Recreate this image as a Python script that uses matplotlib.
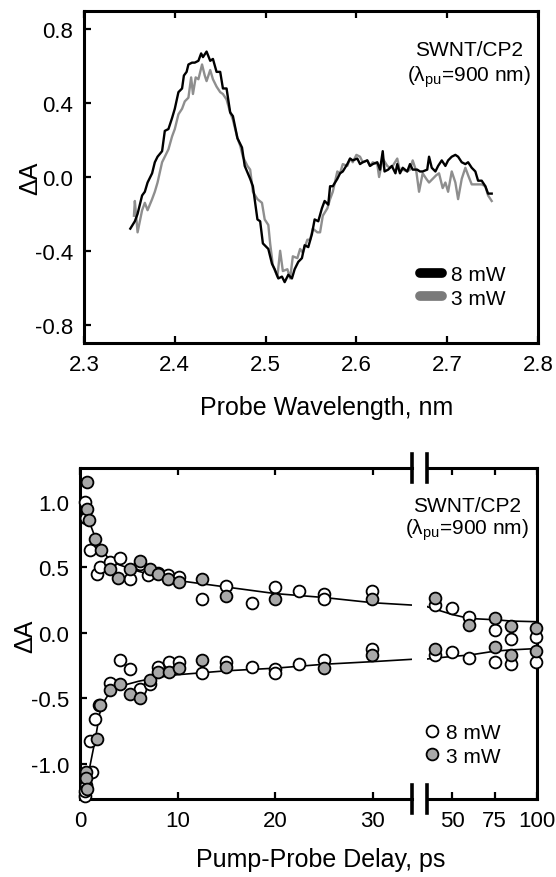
import numpy as np
import matplotlib.pyplot as plt
from matplotlib.lines import Line2D

plt.rcParams['font.family'] = ['Liberation Sans', 'DejaVu Sans']
plt.rcParams['mathtext.fontset'] = 'custom'
plt.rcParams['mathtext.rm'] = 'Liberation Sans'
plt.rcParams['mathtext.it'] = 'Liberation Sans:italic'

# ---- top panel: transient spectra ----
wl8 = [2.351, 2.356, 2.359, 2.364, 2.367, 2.370, 2.375, 2.378, 2.381, 2.386,
       2.389, 2.393, 2.397, 2.400, 2.404, 2.408, 2.410, 2.413, 2.415, 2.419,
       2.422, 2.426, 2.429, 2.431, 2.435, 2.439, 2.442, 2.446, 2.450, 2.453,
       2.457, 2.461, 2.464, 2.469, 2.474, 2.477, 2.483, 2.486, 2.491, 2.494,
       2.497, 2.503, 2.507, 2.510, 2.514, 2.518, 2.521, 2.525, 2.529, 2.532,
       2.536, 2.540, 2.543, 2.547, 2.551, 2.554, 2.558, 2.562, 2.565, 2.569,
       2.571, 2.574, 2.579, 2.582, 2.585, 2.590, 2.593, 2.596, 2.601, 2.604,
       2.607, 2.612, 2.615, 2.618, 2.623, 2.626, 2.629, 2.631, 2.635, 2.639,
       2.643, 2.645, 2.648, 2.651, 2.656, 2.659, 2.662, 2.667, 2.670, 2.673,
       2.678, 2.680, 2.683, 2.687, 2.690, 2.694, 2.698, 2.701, 2.705, 2.709,
       2.712, 2.716, 2.720, 2.723, 2.727, 2.731, 2.734, 2.738, 2.742, 2.745,
       2.749]
dA8 = [-0.28, -0.24, -0.20, -0.10, -0.08, -0.03, 0.02, 0.08, 0.11, 0.14,
       0.25, 0.26, 0.32, 0.37, 0.46, 0.48, 0.55, 0.57, 0.61, 0.62,
       0.62, 0.63, 0.67, 0.65, 0.68, 0.63, 0.64, 0.57, 0.57, 0.48,
       0.48, 0.35, 0.33, 0.21, 0.16, 0.06, -0.01, -0.05, -0.23, -0.24,
       -0.36, -0.39, -0.47, -0.50, -0.55, -0.54, -0.57, -0.53, -0.55, -0.50,
       -0.46, -0.44, -0.37, -0.38, -0.31, -0.23, -0.24, -0.17, -0.13, -0.15,
       -0.05, -0.05, -0.01, 0.02, 0.03, 0.07, 0.10, 0.09, 0.10, 0.07,
       0.08, 0.09, 0.06, 0.07, 0.08, 0.04, 0.14, 0.03, 0.04, 0.06,
       0.02, 0.07, 0.02, 0.05, 0.03, 0.07, 0.04, 0.04, 0.03, 0.03,
       0.04, 0.11, 0.05, 0.03, 0.06, 0.09, 0.06, 0.09, 0.11, 0.12,
       0.11, 0.08, 0.07, 0.08, 0.05, 0.03, -0.02, -0.02, -0.05, -0.09,
       -0.09]

wl3 = [2.355, 2.356, 2.359, 2.364, 2.367, 2.370, 2.375, 2.378, 2.381, 2.386,
       2.389, 2.393, 2.397, 2.400, 2.404, 2.408, 2.411, 2.415, 2.418, 2.420,
       2.423, 2.426, 2.430, 2.433, 2.435, 2.439, 2.442, 2.446, 2.450, 2.453,
       2.457, 2.461, 2.464, 2.469, 2.472, 2.475, 2.480, 2.483, 2.486, 2.491,
       2.496, 2.499, 2.503, 2.505, 2.508, 2.513, 2.516, 2.519, 2.524, 2.527,
       2.530, 2.535, 2.538, 2.541, 2.546, 2.549, 2.552, 2.557, 2.560, 2.563,
       2.568, 2.571, 2.574, 2.579, 2.582, 2.585, 2.590, 2.593, 2.596, 2.600,
       2.604, 2.607, 2.612, 2.615, 2.618, 2.623, 2.625, 2.629, 2.634, 2.637,
       2.640, 2.645, 2.648, 2.651, 2.656, 2.659, 2.662, 2.666, 2.669, 2.673,
       2.677, 2.680, 2.684, 2.688, 2.691, 2.695, 2.698, 2.701, 2.705, 2.709,
       2.712, 2.716, 2.720, 2.723, 2.727, 2.731, 2.734, 2.738, 2.742, 2.745,
       2.749]
dA3 = [-0.21, -0.13, -0.30, -0.18, -0.14, -0.18, -0.12, -0.08, -0.03, 0.08,
       0.11, 0.15, 0.22, 0.26, 0.34, 0.37, 0.41, 0.43, 0.54, 0.45,
       0.54, 0.53, 0.61, 0.55, 0.52, 0.58, 0.53, 0.49, 0.46, 0.45,
       0.42, 0.35, 0.31, 0.21, 0.17, 0.11, 0.06, 0.04, -0.08, -0.12,
       -0.14, -0.23, -0.26, -0.36, -0.48, -0.54, -0.40, -0.51, -0.50, -0.55,
       -0.43, -0.44, -0.39, -0.41, -0.34, -0.34, -0.28, -0.30, -0.30, -0.21,
       -0.17, -0.12, -0.08, 0.03, 0.02, 0.07, 0.06, 0.10, 0.08, 0.12,
       0.11, 0.08, 0.09, 0.06, 0.08, 0.07, 0.00, 0.10, 0.06, 0.05,
       0.06, 0.10, 0.03, 0.04, 0.03, 0.04, 0.09, 0.03, -0.08, 0.02,
       -0.01, -0.03, -0.01, 0.01, 0.02, -0.06, -0.03, -0.08, 0.03, -0.03,
       -0.12, -0.01, 0.05, 0.01, -0.04, -0.04, -0.04, -0.04, -0.05, -0.10,
       -0.13]

# ---- bottom panel: kinetics ----
t8_up = [0.5, 0.6, 1.0, 1.7, 2.05, 3.1, 4.1, 5.1, 6.15, 7.0, 8.0, 9.0, 10.1,
         12.5, 15.0, 17.6, 20.0, 22.4, 25.0, 25.0, 29.9, 40, 50, 60, 75, 84.5, 99.4]
v8_up = [1.00, 0.88, 0.63, 0.45, 0.50, 0.54, 0.57, 0.41, 0.53, 0.44, 0.46, 0.44, 0.43,
         0.26, 0.36, 0.23, 0.35, 0.32, 0.30, 0.26, 0.32, 0.21, 0.19, 0.12, 0.02, -0.05, -0.03]
t8_dn = [0.5, 0.6, 0.5, 1.2, 1.0, 1.5, 1.9, 3.1, 4.1, 5.1, 6.15, 7.2, 8.0, 9.1, 10.1,
         12.5, 15.0, 17.6, 20.0, 20.0, 22.4, 25.0, 29.9, 40, 50, 60, 75, 84.5, 99.4]
v8_dn = [-1.25, -1.16, -1.21, -1.06, -0.83, -0.66, -0.55, -0.38, -0.21, -0.28, -0.43, -0.39, -0.26,
         -0.22, -0.22, -0.31, -0.22, -0.26, -0.28, -0.31, -0.24, -0.21, -0.12, -0.17, -0.15, -0.19,
         -0.22, -0.24, -0.22]

t3_up = [0.7, 0.7, 0.9, 1.5, 2.1, 3.1, 3.9, 5.1, 6.1, 7.2, 8.0, 9.0, 10.1,
         12.5, 15.0, 20.0, 29.9, 40, 60, 75, 84.5, 99.4]
v3_up = [1.15, 0.95, 0.86, 0.72, 0.63, 0.49, 0.42, 0.49, 0.55, 0.49, 0.45, 0.41, 0.39,
         0.41, 0.28, 0.26, 0.26, 0.27, 0.06, 0.11, 0.05, 0.04]
t3_dn = [0.6, 0.6, 0.7, 1.7, 2.0, 3.1, 4.1, 5.1, 6.15, 7.2, 8.0, 9.1, 10.1,
         12.5, 15.0, 25.0, 29.9, 40, 75, 84.5, 99.4]
v3_dn = [-1.06, -1.11, -1.19, -0.81, -0.55, -0.44, -0.39, -0.47, -0.50, -0.36, -0.30, -0.30, -0.27,
         -0.21, -0.26, -0.27, -0.17, -0.12, -0.11, -0.17, -0.14]

# fitted curves
fit_t_up = [0.4, 1.0, 1.5, 2.0, 3.0, 4.0, 6.0, 8.0, 10, 15, 20, 25, 30, 34.5,
            35, 45, 50, 60, 75, 85, 100]
fit_v_up = [1.00, 0.84, 0.74, 0.66, 0.56, 0.52, 0.47, 0.43, 0.40, 0.35, 0.30, 0.27, 0.23, 0.21,
            0.20, 0.16, 0.14, 0.11, 0.10, 0.09, 0.085]
fit_t_dn = [0.5, 0.8, 1.2, 1.6, 2.0, 2.5, 3.0, 4.0, 6.0, 8.0, 10, 15, 20, 25, 30, 34.5,
            35, 50, 60, 75, 85, 100]
fit_v_dn = [-1.25, -1.10, -0.95, -0.80, -0.62, -0.52, -0.46, -0.41, -0.37, -0.34, -0.32, -0.29,
            -0.27, -0.24, -0.22, -0.20, -0.20, -0.18, -0.17, -0.14, -0.13, -0.12]

GRAY_LINE = '#8e8e8e'
GRAY_FILL = '#a8a8a8'
FS_TICK = 16
FS_NOTE = 15
FS_LAB = 18

W, H = 556, 878
fig = plt.figure(figsize=(W / 100, H / 100), dpi=100)


def box(l, r, t, b):
    return [l / W, 1 - b / H, (r - l) / W, (b - t) / H]


def style(ax):
    for s in ax.spines.values():
        s.set_linewidth(2.2)
    ax.tick_params(direction='in', length=5, width=1.6, labelsize=FS_TICK, pad=8,
                   top=True, right=False)


# top panel
ax = fig.add_axes(box(84, 538, 12, 344))
ax.plot(wl3, dA3, color=GRAY_LINE, lw=1.7)
ax.plot(wl8, dA8, color='black', lw=1.7)
ax.set_xlim(2.3, 2.8)
ax.set_ylim(-0.9, 0.9)
ax.set_xticks([2.3, 2.4, 2.5, 2.6, 2.7, 2.8])
ax.set_yticks([-0.8, -0.4, 0.0, 0.4, 0.8])
ax.set_xticklabels(['2.3', '2.4', '2.5', '2.6', '2.7', '2.8'])
ax.set_yticklabels(['-0.8', '-0.4', '0.0', '0.4', '0.8'])
style(ax)
h = [Line2D([], [], color='black', lw=7, solid_capstyle='round'),
     Line2D([], [], color='#7a7a7a', lw=7, solid_capstyle='round')]
ax.legend(h, ['8 mW', '3 mW'], loc='center left', frameon=False,
          bbox_to_anchor=(420 / W, 1 - 287.5 / H), bbox_transform=fig.transFigure,
          borderpad=0, borderaxespad=0, handlelength=1.05, handletextpad=0.45,
          labelspacing=0.2, fontsize=FS_NOTE)
fig.text(469 / W, 1 - 51 / H, 'SWNT/CP2', ha='center', va='center', fontsize=FS_NOTE)
fig.text(469 / W, 1 - 77 / H, r'(λ$_{\rm pu}$=900 nm)', ha='center', va='center', fontsize=FS_NOTE)
fig.text(327 / W, 1 - 408 / H, 'Probe Wavelength, nm', ha='center', va='center', fontsize=FS_LAB)
fig.text(30 / W, 1 - 178 / H, 'ΔA', ha='center', va='center', rotation=90, fontsize=FS_LAB)

# bottom panel, broken x axis
ax1 = fig.add_axes(box(80, 412, 469, 800))
ax2 = fig.add_axes(box(427, 537, 469, 800))
for a, lo, hi in ((ax1, 0, 34), (ax2, 35, 100)):
    a.plot(fit_t_up, fit_v_up, color='black', lw=1.2, zorder=2)
    a.plot(fit_t_dn, fit_v_dn, color='black', lw=1.2, zorder=2)
    for tt, vv, fc in [(t8_up, v8_up, 'white'), (t8_dn, v8_dn, 'white'),
                       (t3_up, v3_up, GRAY_FILL), (t3_dn, v3_dn, GRAY_FILL)]:
        tt = np.asarray(tt)
        vv = np.asarray(vv)
        m = (tt >= lo) & (tt <= hi)
        a.plot(tt[m], vv[m], 'o', ms=8.5, mfc=fc, mec='black', mew=1.3, ls='none',
               zorder=3, clip_on=False)
    a.set_xlim(lo, hi)
    a.set_ylim(-1.27, 1.26)
    style(a)

ax1.set_xticks([0, 10, 20, 30])
ax1.set_yticks([-1.0, -0.5, 0.0, 0.5, 1.0])
ax1.set_yticklabels(['-1.0', '-0.5', '0.0', '0.5', '1.0'])
ax1.spines['right'].set_visible(False)

ax2.set_xticks([50, 75, 100])
ax2.spines['left'].set_visible(False)
ax2.tick_params(left=False, labelleft=False)

# break marks
d = 14 / 331
for a, xx in ((ax1, 1), (ax2, 0)):
    for yy in (0, 1):
        a.plot([xx, xx], [yy - d, yy + d], transform=a.transAxes, color='black',
               lw=2.6, clip_on=False, zorder=5)

mk = [Line2D([], [], marker='o', ls='none', ms=8.5, mfc='white', mec='black', mew=1.3),
      Line2D([], [], marker='o', ls='none', ms=8.5, mfc=GRAY_FILL, mec='black', mew=1.3)]
ax2.legend(mk, ['8 mW', '3 mW'], loc='center left', frameon=False,
           bbox_to_anchor=(424 / W, 1 - 745.5 / H), bbox_transform=fig.transFigure,
           borderpad=0, borderaxespad=0, handlelength=0.8, handletextpad=0.25,
           labelspacing=0.2, fontsize=FS_NOTE)
fig.text(467 / W, 1 - 507 / H, 'SWNT/CP2', ha='center', va='center', fontsize=FS_NOTE)
fig.text(467 / W, 1 - 530 / H, r'(λ$_{\rm pu}$=900 nm)', ha='center', va='center', fontsize=FS_NOTE)
fig.text(321 / W, 1 - 860 / H, 'Pump-Probe Delay, ps', ha='center', va='center', fontsize=FS_LAB)
fig.text(25 / W, 1 - 636 / H, 'ΔA', ha='center', va='center', rotation=90, fontsize=FS_LAB)

fig.savefig('out.png', dpi=100)
